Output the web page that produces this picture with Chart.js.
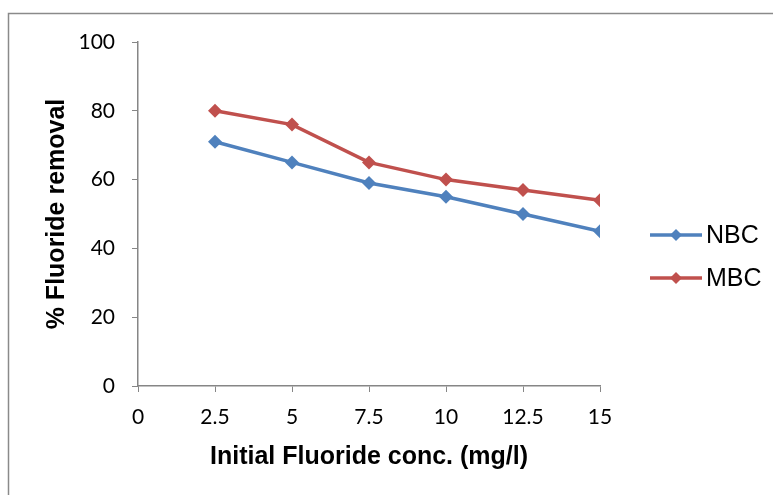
<!DOCTYPE html>
<html>
<head>
<meta charset="utf-8">
<script src="https://cdn.jsdelivr.net/npm/chart.js@4"></script>
<style>
  body { margin: 0; background: #fff; }
  canvas { display: block; }
</style>
</head>
<body>
<canvas id="lineChart" width="773" height="495"></canvas>
<script>
// data
var concentrations = [2.5, 5, 7.5, 10, 12.5, 15];
var nbcRemoval = [71, 65, 59, 55, 50, 45];
var mbcRemoval = [80, 76, 65, 60, 57, 54];
var seriesNames = ["NBC", "MBC"];
var seriesColors = ["#4F81BD", "#C0504D"];

function toPoints(xs, ys) {
  return xs.map(function (x, i) { return { x: x, y: ys[i] }; });
}

var axisColor = "#868686";
var tickFont = { family: "Lato", size: 21 };
var titleFont = { family: "Liberation Sans", size: 25, weight: "bold" };

// outer frame + legend (line with diamond, like the original)
var framePlugin = {
  id: "frame",
  beforeDraw: function (chart) {
    var c = chart.ctx;
    c.save();
    c.fillStyle = "#fff";
    c.fillRect(0, 0, chart.width, chart.height);
    c.strokeStyle = "#8a8a8a";
    c.lineWidth = 1.5;
    c.beginPath();
    c.moveTo(8.5, chart.height + 2);
    c.lineTo(8.5, 13.5);
    c.lineTo(chart.width + 2, 13.5);
    c.stroke();
    c.restore();
  },
  afterDraw: function (chart) {
    var c = chart.ctx;
    var x0 = chart.chartArea.right + 50;
    var ys = [235, 278];
    c.save();
    chart.data.datasets.forEach(function (ds, i) {
      var y = ys[i];
      c.strokeStyle = ds.borderColor;
      c.lineWidth = 3.5;
      c.beginPath();
      c.moveTo(x0, y);
      c.lineTo(x0 + 52, y);
      c.stroke();
      c.fillStyle = ds.borderColor;
      c.beginPath();
      c.moveTo(x0 + 26, y - 6);
      c.lineTo(x0 + 32, y);
      c.lineTo(x0 + 26, y + 6);
      c.lineTo(x0 + 20, y);
      c.closePath();
      c.fill();
      c.fillStyle = "#000";
      c.font = "25px 'Liberation Sans'";
      c.textBaseline = "middle";
      c.fillText(ds.label, x0 + 56, y + 1);
    });
    c.restore();
  }
};

var ctx = document.getElementById("lineChart").getContext("2d");
var myChart = new Chart(ctx, {
  type: "line",
  data: {
    datasets: [
      {
        label: seriesNames[0],
        data: toPoints(concentrations, nbcRemoval),
        borderColor: seriesColors[0],
        backgroundColor: seriesColors[0],
        borderWidth: 3.5,
        pointStyle: "rectRot",
        pointRadius: 7,
        pointBorderWidth: 0,
        fill: false,
        tension: 0
      },
      {
        label: seriesNames[1],
        data: toPoints(concentrations, mbcRemoval),
        borderColor: seriesColors[1],
        backgroundColor: seriesColors[1],
        borderWidth: 3.5,
        pointStyle: "rectRot",
        pointRadius: 7,
        pointBorderWidth: 0,
        fill: false,
        tension: 0
      }
    ]
  },
  options: {
    responsive: false,
    animation: false,
    layout: { padding: { left: 42, top: 42, right: 173, bottom: 23 } },
    plugins: {
      legend: { display: false },
      tooltip: { enabled: false }
    },
    scales: {
      x: {
        type: "linear",
        min: 0,
        max: 15,
        afterFit: function (s) { s.height = 86; },
        ticks: { stepSize: 2.5, color: "#000", font: tickFont, padding: 13, maxRotation: 0 },
        grid: { drawOnChartArea: false, color: axisColor, tickLength: 6 },
        border: { color: axisColor, width: 1.5 },
        title: { display: true, text: "Initial Fluoride conc. (mg/l)", color: "#000", font: titleFont, padding: 0 }
      },
      y: {
        min: 0,
        max: 100,
        afterFit: function (s) { s.width = 96; },
        ticks: { stepSize: 20, color: "#000", font: tickFont, padding: 17 },
        grid: { drawOnChartArea: false, color: axisColor, tickLength: 6 },
        border: { color: axisColor, width: 1.5 },
        title: { display: true, text: "% Fluoride removal", color: "#000", font: titleFont, padding: 0 }
      }
    }
  },
  plugins: [framePlugin]
});
</script>
</body>
</html>
